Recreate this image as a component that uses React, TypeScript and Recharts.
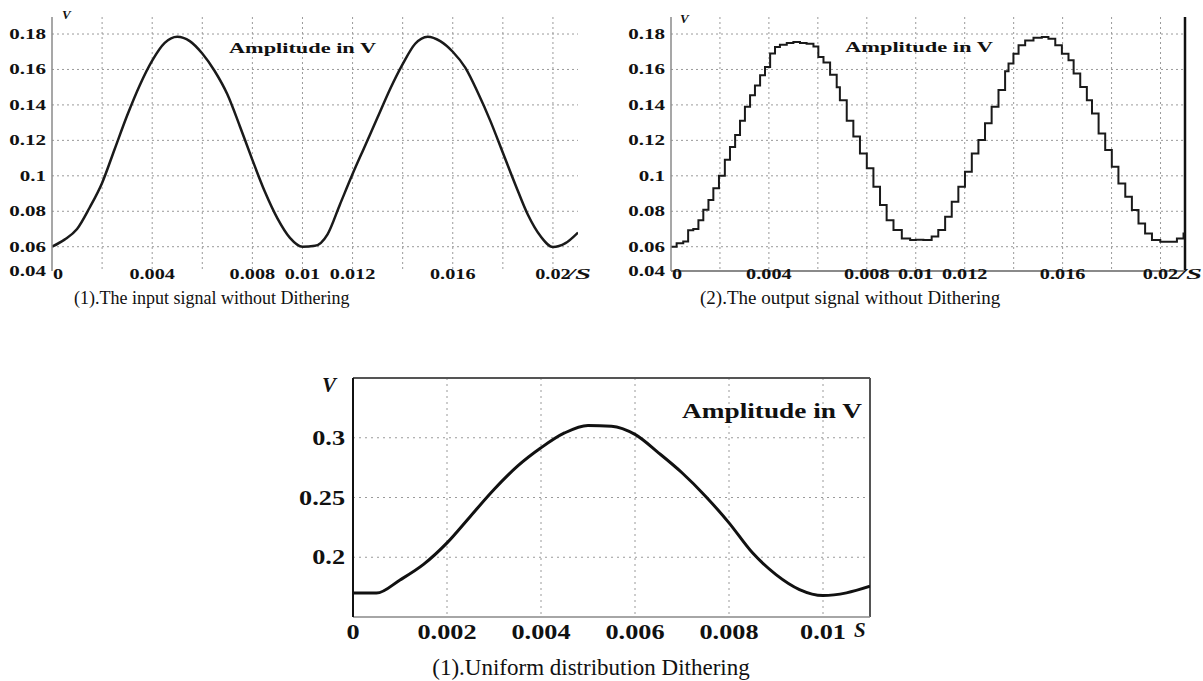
import { LineChart, Line, XAxis, YAxis, CartesianGrid, ReferenceLine } from 'recharts'

// (1) input signal without dithering
const inTime = [0, 0.0005, 0.001, 0.0015, 0.002, 0.0025, 0.003, 0.0035, 0.004, 0.0045, 0.005, 0.0055, 0.006, 0.0065, 0.007, 0.0075, 0.008, 0.0085, 0.009, 0.0095, 0.01, 0.0105, 0.011, 0.0115, 0.012, 0.0125, 0.013, 0.0135, 0.014, 0.0145, 0.015, 0.0155, 0.016, 0.0165, 0.017, 0.0175, 0.018, 0.0185, 0.019, 0.0195, 0.02, 0.0205, 0.021]
const inVolt = [0.06, 0.064, 0.07, 0.082, 0.096, 0.115, 0.134, 0.151, 0.165, 0.175, 0.1785, 0.176, 0.169, 0.159, 0.146, 0.128, 0.109, 0.091, 0.076, 0.065, 0.06, 0.0605, 0.067, 0.084, 0.101, 0.117, 0.133, 0.149, 0.163, 0.1745, 0.1785, 0.176, 0.17, 0.161, 0.147, 0.131, 0.113, 0.095, 0.078, 0.066, 0.0598, 0.062, 0.068]

// (2) output signal without dithering (quantised)
const outTime = [0, 0.00023, 0.0005, 0.0007, 0.00091, 0.00112, 0.00132, 0.00153, 0.00173, 0.00196, 0.0022, 0.00241, 0.00262, 0.00282, 0.00302, 0.00323, 0.00343, 0.00364, 0.00384, 0.00405, 0.00425, 0.00445, 0.00473, 0.005, 0.00527, 0.00554, 0.00582, 0.00602, 0.00623, 0.0065, 0.00677, 0.0069, 0.00718, 0.00745, 0.00772, 0.008, 0.00827, 0.00854, 0.00881, 0.00909, 0.00943, 0.00977, 0.01, 0.01031, 0.01065, 0.01092, 0.0112, 0.01147, 0.01174, 0.01201, 0.01229, 0.01256, 0.01283, 0.0131, 0.01338, 0.01365, 0.01379, 0.01399, 0.0142, 0.01447, 0.01481, 0.01515, 0.01542, 0.0157, 0.01597, 0.01624, 0.01645, 0.01672, 0.01699, 0.0172, 0.01747, 0.01774, 0.01801, 0.01828, 0.01856, 0.01883, 0.0191, 0.01937, 0.01965, 0.01999, 0.02033, 0.02067, 0.02094, 0.021]
const outVolt = [0.06, 0.062, 0.063, 0.0693, 0.07, 0.075, 0.0808, 0.0863, 0.093, 0.1, 0.109, 0.1163, 0.123, 0.131, 0.139, 0.1455, 0.151, 0.1567, 0.1614, 0.169, 0.1727, 0.174, 0.175, 0.1755, 0.175, 0.1745, 0.173, 0.167, 0.164, 0.157, 0.15, 0.1426, 0.131, 0.1222, 0.1126, 0.1042, 0.0939, 0.0835, 0.075, 0.0694, 0.0647, 0.0638, 0.064, 0.0638, 0.0657, 0.0694, 0.0769, 0.0854, 0.0939, 0.1023, 0.1126, 0.1202, 0.1296, 0.139, 0.1484, 0.159, 0.1633, 0.1689, 0.1736, 0.1764, 0.1779, 0.1783, 0.1774, 0.1736, 0.1689, 0.1652, 0.1577, 0.1501, 0.1426, 0.1351, 0.1239, 0.1145, 0.1051, 0.0957, 0.0882, 0.0807, 0.0731, 0.0675, 0.0638, 0.0628, 0.0628, 0.0647, 0.0675, 0.068]

// (1) uniform distribution dithering
const uniTime = [0, 0.0005, 0.001, 0.0015, 0.002, 0.0025, 0.003, 0.0035, 0.004, 0.0045, 0.005, 0.0055, 0.006, 0.0065, 0.007, 0.0075, 0.008, 0.0085, 0.009, 0.0095, 0.01, 0.0105, 0.011]
const uniVolt = [0.17, 0.17, 0.181, 0.194, 0.212, 0.2344, 0.2567, 0.2762, 0.2916, 0.304, 0.3103, 0.3097, 0.3028, 0.2874, 0.2707, 0.2511, 0.2288, 0.2037, 0.1855, 0.173, 0.168, 0.1702, 0.1757]

// top plots: the value axis is cut a little above 0.04, the bottom tick is still labelled 0.04
const topYMin = 0.0463
const topXTicks = [0, 0.004, 0.008, 0.01, 0.012, 0.016, 0.02]
const topYTicks = [topYMin, 0.06, 0.08, 0.1, 0.12, 0.14, 0.16, 0.18]
const topGridX = [0.002, 0.004, 0.006, 0.008, 0.01, 0.012, 0.014, 0.016, 0.018, 0.02]
const topGridY = [0.06, 0.08, 0.1, 0.12, 0.14, 0.16, 0.18]
const uniXTicks = [0, 0.002, 0.004, 0.006, 0.008, 0.01]
const uniYTicks = [0.2, 0.25, 0.3]
const uniGridX = [0.002, 0.004, 0.006, 0.008, 0.01]

const SERIF = '"Liberation Serif", "Times New Roman", serif'

const inData = inTime.map((t, i) => ({ t, v: inVolt[i] }))
const outData = outTime.map((t, i) => ({ t, v: outVolt[i] }))
const uniData = uniTime.map((t, i) => ({ t, v: uniVolt[i] }))

const tickText = (v: number) => (v === topYMin ? '0.04' : String(v))

// width of a numeric string in em for Times bold
function emWidth(s: string) {
  let w = 0
  for (const c of s) w += c === '.' ? 0.25 : 0.5
  return w
}

// the figures are stretched sideways, so the labels are too
function STick(props: any) {
  const { x, y, payload, size, stretch, anchor, dx = 0, dy = 0, zeroDx = 0 } = props
  const s = tickText(payload.value)
  const extra = payload.value === 0 ? zeroDx : 0
  return (
    <text
      x={x + dx + extra}
      y={y + dy}
      textAnchor={anchor}
      fontFamily={SERIF}
      fontWeight="bold"
      fontSize={size}
      fill="#111"
      textLength={emWidth(s) * size * stretch}
      lengthAdjust="spacingAndGlyphs"
    >
      {s}
    </text>
  )
}

function Stretch({ x, y, size, len, children, italic = false, bold = true, anchor = 'start' }: any) {
  return (
    <text
      x={x}
      y={y}
      fontFamily={SERIF}
      fontSize={size}
      fontWeight={bold ? 'bold' : 'normal'}
      fontStyle={italic ? 'italic' : 'normal'}
      fill="#111"
      textAnchor={anchor}
      textLength={len}
      lengthAdjust="spacingAndGlyphs"
    >
      {children}
    </text>
  )
}

function TopChart({ data, step, boxed }: { data: { t: number; v: number }[]; step: boolean; boxed: boolean }) {
  return (
    <LineChart width={boxed ? 603 : 600} height={300} data={data} margin={{ top: 17, right: boxed ? 18 : 22, left: 0, bottom: 0 }}>
      <CartesianGrid stroke="#9a9a9a" strokeDasharray="2 3" horizontalValues={topGridY} verticalValues={topGridX} />
      <XAxis
        dataKey="t"
        type="number"
        domain={[0, 0.021]}
        allowDataOverflow
        ticks={topXTicks}
        height={29}
        tickSize={0}
        tickMargin={0}
        tickLine={false}
        axisLine={boxed ? { stroke: '#8a8a8a', strokeWidth: 2 } : false}
        tick={(p: any) => <STick {...p} size={15} stretch={1.35} anchor="middle" dy={8} zeroDx={6} />}
      />
      <YAxis
        type="number"
        domain={[topYMin, 0.1896]}
        allowDataOverflow
        ticks={topYTicks}
        width={boxed ? 71 : 52}
        tickSize={0}
        tickMargin={0}
        tickLine={false}
        axisLine={{ stroke: '#8a8a8a', strokeWidth: 1.5 }}
        tick={(p: any) => <STick {...p} size={15} stretch={1.4} anchor="end" dx={-6} dy={5} />}
      />
      {boxed && <ReferenceLine x={0.021} stroke="#111" strokeWidth={2.5} />}
      <Line
        dataKey="v"
        type={step ? 'stepAfter' : 'monotone'}
        stroke="#1a1a1a"
        strokeWidth={step ? 2 : 2.5}
        dot={false}
        isAnimationActive={false}
      />
    </LineChart>
  )
}

export default function App() {
  return (
    <div style={{ position: 'absolute', left: 0, top: 0, width: 1203, height: 681, background: '#fff', overflow: 'hidden' }}>
      <div style={{ position: 'absolute', left: 0, top: 0 }}>
        <TopChart data={inData} step={false} boxed={false} />
      </div>
      <div style={{ position: 'absolute', left: 600, top: 0 }}>
        <TopChart data={outData} step={true} boxed={true} />
      </div>
      <div style={{ position: 'absolute', left: 270, top: 360 }}>
        <LineChart width={620} height={287} data={uniData} margin={{ top: 18, right: 20, left: 0, bottom: 0 }}>
          <CartesianGrid stroke="#9a9a9a" strokeDasharray="2 4" horizontalValues={uniYTicks} verticalValues={uniGridX} />
          <XAxis
            dataKey="t"
            type="number"
            domain={[0, 0.011]}
            allowDataOverflow
            ticks={uniXTicks}
            height={30}
            tickSize={0}
            tickMargin={0}
            tickLine={false}
            axisLine={{ stroke: '#888', strokeWidth: 1.5 }}
            tick={(p: any) => <STick {...p} size={21} stretch={1.25} anchor="middle" dy={22} />}
          />
          <YAxis
            type="number"
            domain={[0.15, 0.35]}
            allowDataOverflow
            ticks={uniYTicks}
            width={83}
            tickSize={0}
            tickMargin={0}
            tickLine={false}
            axisLine={{ stroke: '#111', strokeWidth: 2 }}
            tick={(p: any) => <STick {...p} size={21} stretch={1.25} anchor="end" dx={-8} dy={7} />}
          />
          <ReferenceLine y={0.35} stroke="#555" strokeWidth={2} />
          <ReferenceLine x={0.011} stroke="#555" strokeWidth={2} />
          <Line dataKey="v" type="monotone" stroke="#111" strokeWidth={3} dot={false} isAnimationActive={false} />
        </LineChart>
      </div>
      <svg width={1203} height={681} style={{ position: 'absolute', left: 0, top: 0, pointerEvents: 'none' }}>
        <Stretch x={62} y={19} size={13} italic>V</Stretch>
        <Stretch x={229} y={53} size={15} len={147}>Amplitude in V</Stretch>
        <Stretch x={567} y={279} size={15} len={24} italic>/S</Stretch>
        <Stretch x={680} y={23} size={13} italic>V</Stretch>
        <Stretch x={845} y={52} size={15} len={148}>Amplitude in V</Stretch>
        <Stretch x={1178} y={279} size={15} len={24} italic>/S</Stretch>
        <Stretch x={322} y={392} size={21} italic>V</Stretch>
        <Stretch x={682} y={418} size={22} len={180}>Amplitude  in V</Stretch>
        <Stretch x={854} y={637} size={21} italic>S</Stretch>
        <Stretch x={74} y={304} size={18} bold={false}>(1).The input signal without Dithering</Stretch>
        <Stretch x={700} y={304} size={19} bold={false}>(2).The output signal without Dithering</Stretch>
        <Stretch x={591} y={675} size={23} bold={false} anchor="middle">(1).Uniform distribution Dithering</Stretch>
      </svg>
    </div>
  )
}
